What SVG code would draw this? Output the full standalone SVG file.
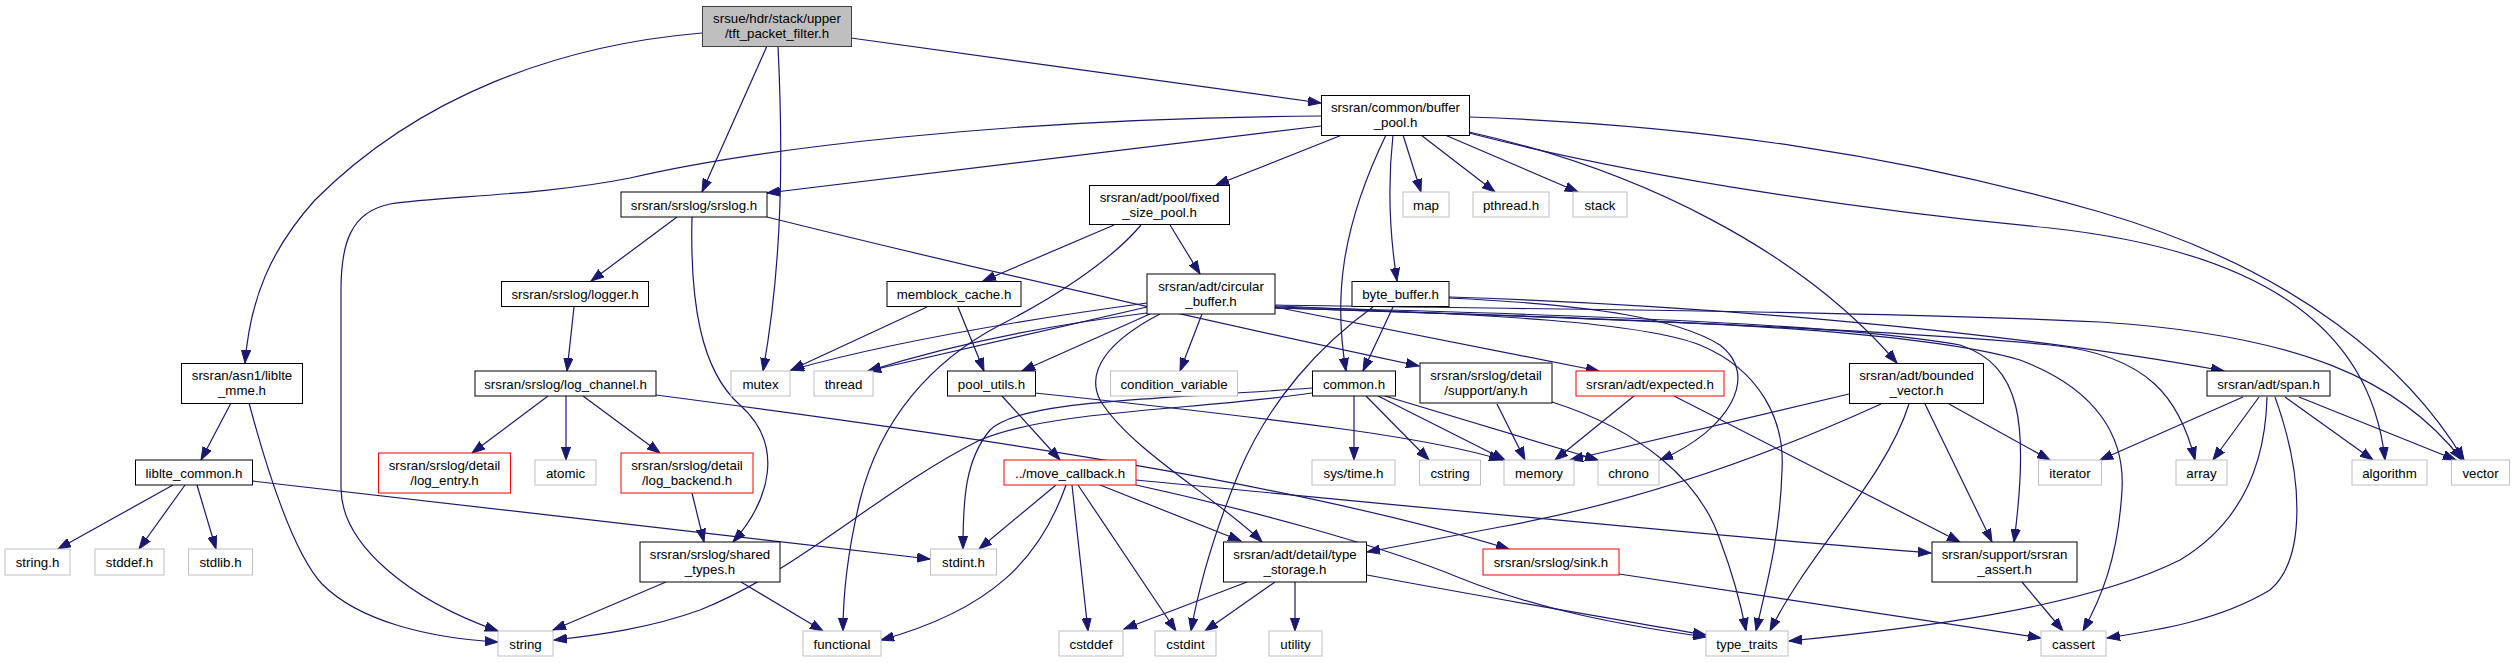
<svg xmlns="http://www.w3.org/2000/svg" width="2515" height="663" viewBox="0 0 2515 663">
<style>
rect{fill:#fff;stroke:#000;stroke-width:1}
.g rect{stroke:#bfbfbf}
.r rect{stroke:#ff0000}
.root rect{fill:#bfbfbf;stroke:#404040}
text{font-family:"Liberation Sans",Arial,Helvetica,sans-serif;font-size:13.3px;fill:#000;text-anchor:middle}
#edges path{fill:none;stroke:#191970;stroke-width:1.2;marker-end:url(#ah)}
</style>
<defs>
<marker id="ah" markerUnits="userSpaceOnUse" markerWidth="14" markerHeight="10" refX="13" refY="5" orient="auto" viewBox="0 0 14 10"><path d="M0,0.4 L13,5 L0,9.6 z" fill="#191970" stroke="#191970" stroke-width="1"/></marker>
</defs>
<rect x="0" y="0" width="2515" height="663" style="fill:#fff;stroke:none"/>
<g id="edges">
<path d="M851,38 L1321,103"/>
<path d="M767,46 L702,192"/>
<path d="M778,46 C783,150 783,260 763,371"/>
<path d="M702,33 C560,45 420,95 315,200 C270,250 250,300 245,363"/>
<path d="M1321,116 C1000,118 750,150 630,178 C540,196 440,196 390,204 C350,212 341,245 341,290 L341,488 C341,545 410,600 498,631"/>
<path d="M1321,126 L767,193"/>
<path d="M1342,135 L1216,185"/>
<path d="M1403,135 L1421,192"/>
<path d="M1421,135 L1495,192"/>
<path d="M1445,135 L1578,192"/>
<path d="M1393,135 C1388,180 1389,230 1397,281"/>
<path d="M1386,135 C1340,230 1334,300 1346,371"/>
<path d="M1469,132 C1640,170 1800,250 1897,363"/>
<path d="M1469,133 C1650,180 1880,212 2050,228 C2250,250 2370,320 2385,460"/>
<path d="M1469,117 C1700,125 1900,155 2100,212 C2300,270 2410,370 2464,460"/>
<path d="M677,217 L591,281"/>
<path d="M692,217 C690,300 700,370 740,405 C785,445 770,500 733,542"/>
<path d="M767,217 C1000,275 1250,330 1419,366"/>
<path d="M574,307 L567,371"/>
<path d="M548,396 L472,453"/>
<path d="M566,396 L566,460"/>
<path d="M583,396 L660,453"/>
<path d="M656,395 C1000,440 1300,485 1509,549"/>
<path d="M692,493 L704,542"/>
<path d="M666,582 L553,630"/>
<path d="M741,582 L823,631"/>
<path d="M231,403 L201,460"/>
<path d="M249,403 C275,500 300,560 322,584 C360,622 430,638 498,642"/>
<path d="M173,485 L58,549"/>
<path d="M185,485 L139,549"/>
<path d="M197,485 L216,549"/>
<path d="M252,481 L930,559"/>
<path d="M1114,225 L983,281"/>
<path d="M1170,225 L1200,274"/>
<path d="M1141,225 C1110,262 1050,300 1000,325 C930,362 880,420 860,500 C848,550 843,590 843,631"/>
<path d="M1147,303 C1000,323 880,345 791,370"/>
<path d="M1147,307 L868,371"/>
<path d="M1147,313 C1050,325 950,345 868,371"/>
<path d="M927,307 L791,370"/>
<path d="M958,307 L984,371"/>
<path d="M1150,314 L1022,371"/>
<path d="M1202,314 L1180,371"/>
<path d="M1160,314 C1110,340 1085,370 1100,400 C1130,450 1220,500 1262,542"/>
<path d="M1275,307 L1599,371"/>
<path d="M1275,306 C1500,315 1640,322 1700,345 C1760,370 1785,420 1782,470 C1780,540 1765,590 1756,631"/>
<path d="M1275,308 C1600,318 1900,330 2050,345 C2150,355 2180,400 2195,460"/>
<path d="M1275,305 C1600,310 1900,312 2100,322 C2300,335 2400,380 2462,460"/>
<path d="M1275,307 C1600,315 1850,325 1960,345 C2020,365 2030,420 2014,542"/>
<path d="M1275,308 C1600,318 1900,325 2020,360 C2100,390 2125,440 2122,490 C2118,560 2100,600 2083,631"/>
<path d="M1449,297 C1700,305 2000,330 2224,371"/>
<path d="M1449,298 C1600,305 1680,320 1720,345 C1760,375 1730,430 1660,460"/>
<path d="M1373,307 C1320,345 1270,400 1240,470 C1215,530 1200,580 1191,631"/>
<path d="M1393,307 L1363,371"/>
<path d="M1674,396 L1960,542"/>
<path d="M1634,396 L1555,460"/>
<path d="M1925,404 L1992,542"/>
<path d="M1949,404 L2050,460"/>
<path d="M1849,394 L1570,460"/>
<path d="M1881,404 C1780,450 1650,500 1500,527 L1367,552"/>
<path d="M1909,404 C1885,480 1810,550 1770,631"/>
<path d="M1136,480 C1400,505 1700,535 1931,553"/>
<path d="M2022,582 L2063,631"/>
<path d="M1619,574 L2041,638"/>
<path d="M2275,397 C2305,480 2305,560 2270,590 C2220,620 2160,630 2107,638"/>
<path d="M2267,397 C2265,480 2230,530 2180,560 C2080,610 1900,630 1789,641"/>
<path d="M2243,397 L2100,460"/>
<path d="M2259,397 L2213,460"/>
<path d="M2285,397 L2373,460"/>
<path d="M2299,397 L2456,460"/>
<path d="M1497,404 L1525,460"/>
<path d="M1552,402 C1640,430 1700,480 1720,540 C1735,580 1742,610 1746,631"/>
<path d="M1354,396 L1354,460"/>
<path d="M1366,396 L1429,460"/>
<path d="M1378,396 L1505,460"/>
<path d="M1385,396 L1598,460"/>
<path d="M1312,393 C1200,410 1050,410 980,440 C880,490 800,570 700,610 C650,628 600,635 554,640"/>
<path d="M1312,388 C1150,400 1020,400 990,430 C965,460 963,500 963,549"/>
<path d="M1002,396 L1060,460"/>
<path d="M1035,393 C1150,405 1260,418 1350,430 C1420,440 1470,450 1502,460"/>
<path d="M1056,485 L979,549"/>
<path d="M1066,485 C1040,560 990,610 881,640"/>
<path d="M1072,485 L1088,631"/>
<path d="M1078,485 L1176,631"/>
<path d="M1100,485 L1241,541"/>
<path d="M1136,485 C1250,510 1380,545 1460,578 C1540,610 1620,625 1706,637"/>
<path d="M1247,582 L1124,629"/>
<path d="M1275,582 L1205,631"/>
<path d="M1295,582 L1295,631"/>
<path d="M1367,575 C1500,600 1620,620 1706,635"/>
</g>
<g id="n_root" class="root"><rect x="702.5" y="6.5" width="149" height="40"/><text x="777" y="22.8">srsue/hdr/stack/upper</text><text x="777" y="37.8">/tft_packet_filter.h</text></g>
<g id="n_buffer_pool"><rect x="1321.5" y="95.5" width="148" height="40"/><text x="1395.5" y="112">srsran/common/buffer</text><text x="1395.5" y="127">_pool.h</text></g>
<g id="n_srslog"><rect x="621" y="192" width="146" height="25"/><text x="694" y="209.5">srsran/srslog/srslog.h</text></g>
<g id="n_fixed_size_pool"><rect x="1089.5" y="185.5" width="140" height="39"/><text x="1159.5" y="201.5">srsran/adt/pool/fixed</text><text x="1159.5" y="216.5">_size_pool.h</text></g>
<g id="n_map" class="g"><rect x="1403" y="192" width="46" height="25"/><text x="1426" y="209.5">map</text></g>
<g id="n_pthread" class="g"><rect x="1473" y="192" width="76" height="25"/><text x="1511" y="209.5">pthread.h</text></g>
<g id="n_stack" class="g"><rect x="1573" y="192" width="54" height="25"/><text x="1600" y="209.5">stack</text></g>
<g id="n_logger"><rect x="501.5" y="281.5" width="147" height="25"/><text x="575" y="299">srsran/srslog/logger.h</text></g>
<g id="n_memblock"><rect x="887" y="281.5" width="134" height="25"/><text x="954" y="299">memblock_cache.h</text></g>
<g id="n_circular"><rect x="1147" y="274" width="128" height="40"/><text x="1211" y="290.5">srsran/adt/circular</text><text x="1211" y="305.5">_buffer.h</text></g>
<g id="n_byte_buffer"><rect x="1352" y="281.5" width="97" height="25"/><text x="1400.5" y="299">byte_buffer.h</text></g>
<g id="n_liblte_mme"><rect x="181.5" y="363.5" width="121" height="40"/><text x="242" y="380">srsran/asn1/liblte</text><text x="242" y="395">_mme.h</text></g>
<g id="n_log_channel"><rect x="475" y="371" width="181" height="25"/><text x="565.5" y="388.5">srsran/srslog/log_channel.h</text></g>
<g id="n_mutex" class="g"><rect x="731" y="371" width="59" height="25"/><text x="760.5" y="388.5">mutex</text></g>
<g id="n_thread" class="g"><rect x="814" y="371" width="59" height="25"/><text x="843.5" y="388.5">thread</text></g>
<g id="n_pool_utils"><rect x="947.5" y="371" width="88" height="25"/><text x="991.5" y="388.5">pool_utils.h</text></g>
<g id="n_condvar" class="g"><rect x="1110.5" y="371" width="127" height="25"/><text x="1174" y="388.5">condition_variable</text></g>
<g id="n_common"><rect x="1312.5" y="371" width="83" height="25"/><text x="1354" y="388.5">common.h</text></g>
<g id="n_any"><rect x="1420" y="363" width="132" height="40"/><text x="1486" y="379.5">srsran/srslog/detail</text><text x="1486" y="394.5">/support/any.h</text></g>
<g id="n_expected" class="r"><rect x="1576" y="371" width="148" height="25"/><text x="1650" y="388.5">srsran/adt/expected.h</text></g>
<g id="n_bounded_vector"><rect x="1849.5" y="363.5" width="134" height="40"/><text x="1916.5" y="380">srsran/adt/bounded</text><text x="1916.5" y="395">_vector.h</text></g>
<g id="n_span"><rect x="2207" y="371" width="123" height="25"/><text x="2268.5" y="388.5">srsran/adt/span.h</text></g>
<g id="n_liblte_common"><rect x="135.5" y="460" width="117" height="25"/><text x="194" y="477.5">liblte_common.h</text></g>
<g id="n_log_entry" class="r"><rect x="378.5" y="453" width="132" height="40"/><text x="444.5" y="469.5">srsran/srslog/detail</text><text x="444.5" y="484.5">/log_entry.h</text></g>
<g id="n_atomic" class="g"><rect x="535" y="460" width="61" height="25"/><text x="565.5" y="477.5">atomic</text></g>
<g id="n_log_backend" class="r"><rect x="621" y="453" width="132" height="40"/><text x="687" y="469.5">srsran/srslog/detail</text><text x="687" y="484.5">/log_backend.h</text></g>
<g id="n_move_callback" class="r"><rect x="1004" y="460" width="132" height="25"/><text x="1070" y="477.5">../move_callback.h</text></g>
<g id="n_systime" class="g"><rect x="1312" y="460" width="83" height="25"/><text x="1353.5" y="477.5">sys/time.h</text></g>
<g id="n_cstring" class="g"><rect x="1419.5" y="460" width="61" height="25"/><text x="1450" y="477.5">cstring</text></g>
<g id="n_memory" class="g"><rect x="1504" y="460" width="70" height="25"/><text x="1539" y="477.5">memory</text></g>
<g id="n_chrono" class="g"><rect x="1598" y="460" width="61" height="25"/><text x="1628.5" y="477.5">chrono</text></g>
<g id="n_iterator" class="g"><rect x="2038.5" y="460" width="63" height="25"/><text x="2070" y="477.5">iterator</text></g>
<g id="n_array" class="g"><rect x="2176" y="460" width="51" height="25"/><text x="2201.5" y="477.5">array</text></g>
<g id="n_algorithm" class="g"><rect x="2352" y="460" width="75" height="25"/><text x="2389.5" y="477.5">algorithm</text></g>
<g id="n_vector" class="g"><rect x="2451.5" y="460" width="58" height="25"/><text x="2480.5" y="477.5">vector</text></g>
<g id="n_string_h" class="g"><rect x="5" y="549" width="65" height="26"/><text x="37.5" y="566.5">string.h</text></g>
<g id="n_stddef_h" class="g"><rect x="95" y="549" width="69" height="26"/><text x="129.5" y="566.5">stddef.h</text></g>
<g id="n_stdlib_h" class="g"><rect x="188.5" y="549" width="64" height="26"/><text x="220.5" y="566.5">stdlib.h</text></g>
<g id="n_shared_types"><rect x="640" y="542" width="140" height="40"/><text x="710" y="558.5">srsran/srslog/shared</text><text x="710" y="573.5">_types.h</text></g>
<g id="n_stdint_h" class="g"><rect x="930.5" y="549" width="66" height="26"/><text x="963.5" y="566.5">stdint.h</text></g>
<g id="n_sink" class="r"><rect x="1483" y="549" width="136" height="26"/><text x="1551" y="566.5">srsran/srslog/sink.h</text></g>
<g id="n_type_storage"><rect x="1223.5" y="542" width="143" height="40"/><text x="1295" y="558.5">srsran/adt/detail/type</text><text x="1295" y="573.5">_storage.h</text></g>
<g id="n_srsran_assert"><rect x="1932" y="542" width="145" height="40"/><text x="2004.5" y="558.5">srsran/support/srsran</text><text x="2004.5" y="573.5">_assert.h</text></g>
<g id="n_string" class="g"><rect x="498" y="631" width="55" height="25"/><text x="525.5" y="648.5">string</text></g>
<g id="n_functional" class="g"><rect x="803" y="631" width="78" height="25"/><text x="842" y="648.5">functional</text></g>
<g id="n_cstddef" class="g"><rect x="1059" y="631" width="64" height="25"/><text x="1091" y="648.5">cstddef</text></g>
<g id="n_cstdint" class="g"><rect x="1155" y="631" width="61" height="25"/><text x="1185.5" y="648.5">cstdint</text></g>
<g id="n_utility" class="g"><rect x="1269" y="631" width="53" height="25"/><text x="1295.5" y="648.5">utility</text></g>
<g id="n_type_traits" class="g"><rect x="1706" y="631" width="82" height="25"/><text x="1747" y="648.5">type_traits</text></g>
<g id="n_cassert" class="g"><rect x="2041" y="631" width="65" height="25"/><text x="2073.5" y="648.5">cassert</text></g>
</svg>
